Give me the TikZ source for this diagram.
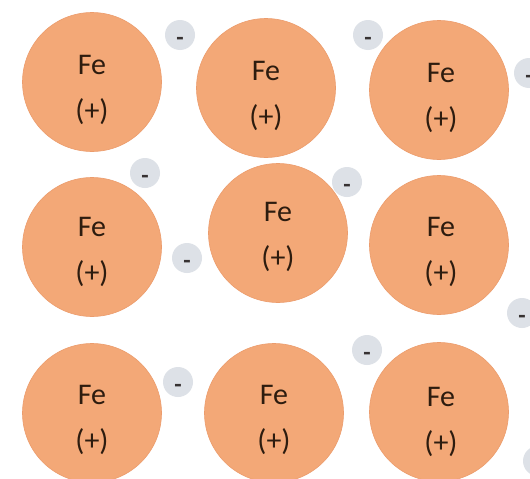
\documentclass[tikz,border=0pt]{standalone}
\usepackage{fontspec}
\setmainfont{Carlito}
\definecolor{ionfill}{RGB}{243,168,119}
\definecolor{ionedge}{RGB}{236,156,108}
\definecolor{elecfill}{RGB}{221,225,231}
\definecolor{txtcol}{RGB}{45,28,15}
\definecolor{minuscol}{RGB}{55,50,50}
\tikzset{
  ion/.style={circle, fill=ionfill, draw=ionedge, line width=0.6pt, minimum size=139pt, inner sep=0pt},
  iontext/.style={align=center, inner sep=0pt, text=txtcol, font=\fontsize{30}{46}\selectfont},
  elec/.style={circle, fill=elecfill, minimum size=30pt, inner sep=0pt, text=minuscol,
    font=\fontsize{24}{24}\selectfont\bfseries, text height=20pt, text depth=0pt}
}
\begin{document}
\begin{tikzpicture}[x=1pt,y=-1pt]
\useasboundingbox[fill=white] (0,0) rectangle (530,479);
% ions
\node[ion] (a11) at (92,82) {};
\node[ion] (a12) at (266,88) {};
\node[ion] (a13) at (439,90) {};
\node[ion] (a21) at (92,247) {};
\node[ion] (a22) at (278,233) {};
\node[ion] (a23) at (439,245) {};
\node[ion] (a31) at (92,413) {};
\node[ion] (a32) at (274,413) {};
\node[ion] (a33) at (439,412) {};
% ion labels
\node[iontext] (t11) at (92,90) {Fe\\(+)};
\node[iontext] (t12) at (266,96) {Fe\\(+)};
\node[iontext] (t13) at (441,97.5) {Fe\\(+)};
\node[iontext] (t21) at (92,251.5) {Fe\\(+)};
\node[iontext] (t22) at (278,236.5) {Fe\\(+)};
\node[iontext] (t23) at (441,251.5) {Fe\\(+)};
\node[iontext] (t31) at (92,419.5) {Fe\\(+)};
\node[iontext] (t32) at (274,419.5) {Fe\\(+)};
\node[iontext] (t33) at (441,421.5) {Fe\\(+)};
% electrons
\node[elec] (e1) at (180,35) {-};
\node[elec] (e2) at (145,173) {-};
\node[elec] (e3) at (368,35) {-};
\node[elec] (e4) at (529,73) {-};
\node[elec] (e5) at (347,182) {-};
\node[elec] (e6) at (187,258) {-};
\node[elec] (e7) at (178,382) {-};
\node[elec] (e8) at (367,350) {-};
\node[elec] (e9) at (522,313) {-};
\node[elec] (e10) at (538,461) {};
\end{tikzpicture}
\end{document}
